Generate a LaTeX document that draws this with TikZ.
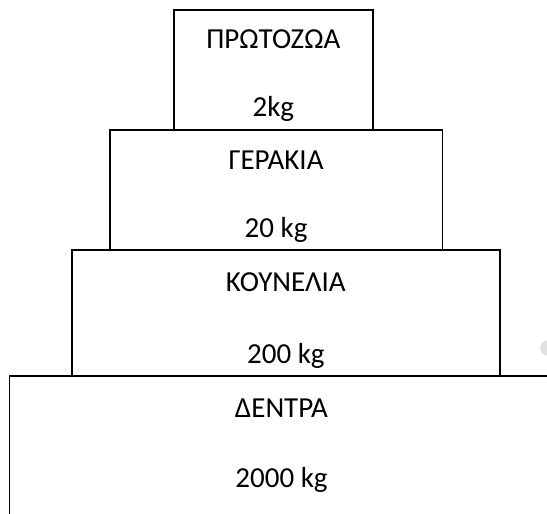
\documentclass[tikz,border=0pt]{standalone}
\usepackage{fontspec}
\setmainfont{Carlito}
\usetikzlibrary{calc}
\begin{document}
\begin{tikzpicture}[x=1pt,y=-1pt,
  tier/.style={draw=black, line width=1.6pt, anchor=north west,
    inner sep=0pt, outer sep=0pt},
  txt/.style={anchor=base, inner sep=0pt, text=black,
    font=\fontsize{29}{34}\selectfont}]
\useasboundingbox (0,0) rectangle (547,514);
\clip (0,0) rectangle (547,514);

% soft grey mark at the right edge
\fill[black!12] (551,348) ellipse [x radius=11, y radius=8.5];

% the four tiers of the pyramid, widest at the bottom
\node[tier, minimum width=544, minimum height=160] (trees)   at (9.5,376)  {};
\node[tier, minimum width=428.3, minimum height=126] (rabbits) at (71.7,250) {};
\node[tier, minimum width=332.6, minimum height=120] (hawks)   at (109.7,130) {};
\node[tier, minimum width=198.7, minimum height=120] (protozoa) at (174,10)  {};

% names and masses
\node[txt] (protozoaName) at ($(protozoa.north)+(0,38.3)$)  {ΠΡΩΤΟΖΩΑ};
\node[txt] (protozoaMass) at ($(protozoa.north)+(0,106.7)$) {2kg};
\node[txt] (hawksName)    at ($(hawks.north)+(0,39)$)       {ΓΕΡΑΚΙΑ};
\node[txt] (hawksMass)    at ($(hawks.north)+(0,107.3)$)    {20 kg};
\node[txt] (rabbitsName)  at ($(rabbits.north)+(0,41.5)$)   {ΚΟΥΝΕΛΙΑ};
\node[txt] (rabbitsMass)  at ($(rabbits.north)+(0,113.9)$)  {200 kg};
\node[txt] (treesName)    at ($(trees.north)+(0,41.1)$)     {ΔΕΝΤΡΑ};
\node[txt] (treesMass)    at ($(trees.north)+(0,111.9)$)    {2000 kg};
\end{tikzpicture}
\end{document}
